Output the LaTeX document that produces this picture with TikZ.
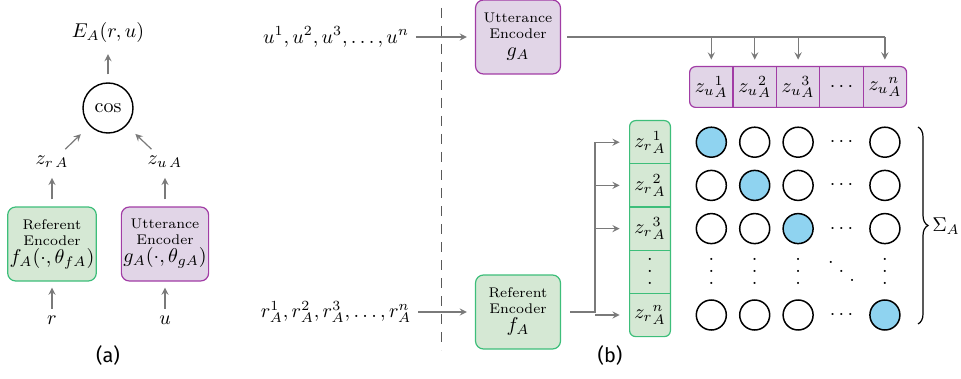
\documentclass[tikz,border=0pt]{standalone}
\usepackage{fontspec}
\newfontfamily\capfont{Fira Sans}
\usetikzlibrary{positioning,decorations.pathreplacing,backgrounds}

\definecolor{refgreen}{HTML}{D5E8D4}
\definecolor{refgreenline}{HTML}{3DBE7A}
\definecolor{uttpurple}{HTML}{E1D5E7}
\definecolor{uttpurpleline}{HTML}{A13CA5}
\definecolor{simblue}{HTML}{8FD3F0}
\definecolor{arrowgray}{HTML}{7A7A7A}

% compact dots, no extra kern above
\newcommand\colvdots{\vbox{\baselineskip6pt\lineskiplimit0pt\hbox{.}\hbox{.}\hbox{.}}}
\newcommand\diagdots{\mbox{\raisebox{9pt}{.}\kern2.5pt\raisebox{4.5pt}{.}\kern2.5pt\raisebox{0pt}{.}}}

\begin{document}
\begin{tikzpicture}[
    x=0.5pt, y=-0.5pt,
    enc/.style={draw, rounded corners=4pt, align=center, font=\scriptsize, minimum width=42.5pt, minimum height=37pt, inner sep=1pt, line width=0.6pt},
    refenc/.style={enc, fill=refgreen, draw=refgreenline},
    uttenc/.style={enc, fill=uttpurple, draw=uttpurpleline},
    cell/.style={minimum width=21.3pt, minimum height=20pt, inner sep=0pt},
    rcell/.style={minimum width=20pt, minimum height=21.2pt, inner sep=0pt},
    sim/.style={circle, draw, line width=0.75pt, minimum size=15pt, inner sep=0pt},
    hit/.style={sim, fill=simblue},
    gap/.style={inner sep=0pt},
    line/.style={draw=arrowgray, line width=0.6pt},
    arrow/.style={line, -stealth}
]
    \useasboundingbox (0,0) rectangle (961,379);

    % (a) single pair
    \node[refenc] (fa) at (52,244) {Referent\\Encoder\\[1pt]\normalsize$f_A(\cdot,\theta_{fA})$};
    \node[uttenc] (ga) at (165,244) {Utterance\\Encoder\\[1pt]\normalsize$g_A(\cdot,\theta_{gA})$};
    \node (r) at (52,320) {$r$};
    \node (u) at (165,320) {$u$};
    \node (zr) at (52,162) {$z_{r\,A}$};
    \node (zu) at (165,162) {$z_{u\,A}$};
    \node[circle, draw, line width=0.7pt, minimum size=25pt] (cos) at (108,108) {$\cos$};
    \node (ea) at (108,33) {$E_A(r,u)$};
    \node[font=\capfont] (capa) at (108,355) {(a)};

    \draw[arrow, shorten >=3pt] (r) -- (fa);
    \draw[arrow, shorten >=3pt] (u) -- (ga);
    \draw[arrow, shorten <=3.5pt, shorten >=1.5pt] (fa) -- (zr);
    \draw[arrow, shorten <=3.5pt, shorten >=1.5pt] (ga) -- (zu);
    \draw[arrow, shorten >=6pt] (zr) -- (cos);
    \draw[arrow, shorten >=6pt] (zu) -- (cos);
    \draw[arrow, shorten <=4pt, shorten >=2pt] (cos) -- (ea);

    \draw[dashed, dash pattern=on 5pt off 4pt, draw=black!65, line width=0.5pt] (441,8) -- (441,350);

    % (b) batch of n pairs
    \node[uttenc] (gA) at (518,37) {Utterance\\Encoder\\[1pt]\normalsize$g_A$};
    \node[refenc] (fA) at (518,312) {Referent\\Encoder\\[1pt]\normalsize$f_A$};
    \node (useq) at (336,37) {$u^1, u^2, u^3, \ldots, u^n$};
    \node (rseq) at (336,312) {$r_A^1, r_A^2, r_A^3, \ldots, r_A^n$};
    \draw[arrow, shorten >=4pt] (useq) -- (useq -| gA.west);
    \draw[arrow, shorten >=4pt] (rseq) -- (rseq -| fA.west);

    \node[cell] (zu1) at (711.3,87) {${z_u}^1_A$};
    \node[cell, right=0pt of zu1] (zu2) {${z_u}^2_A$};
    \node[cell, right=0pt of zu2] (zu3) {${z_u}^3_A$};
    \node[cell, right=0pt of zu3] (zu4) {$\cdots$};
    \node[cell, right=0pt of zu4] (zu5) {${z_u}^n_A$};

    \node[rcell] (zr1) at (650,142.2) {${z_r}^1_A$};
    \node[rcell, below=0pt of zr1] (zr2) {${z_r}^2_A$};
    \node[rcell, below=0pt of zr2] (zr3) {${z_r}^3_A$};
    \node[rcell, below=0pt of zr3] (zr4) {\colvdots};
    \node[rcell, below=0pt of zr4] (zr5) {${z_r}^n_A$};

    \begin{scope}[on background layer]
        \draw[fill=uttpurple, draw=uttpurpleline, line width=0.6pt, rounded corners=3pt] (zu1.north west) rectangle (zu5.south east);
        \draw[fill=refgreen, draw=refgreenline, line width=0.6pt, rounded corners=3pt] (zr1.north west) rectangle (zr5.south east);
    \end{scope}
    \foreach \j in {1,2,3,4}
        \draw[draw=uttpurpleline, line width=0.6pt] (zu\j.north east) -- (zu\j.south east);
    \foreach \i in {1,2,3,4}
        \draw[draw=refgreenline, line width=0.6pt] (zr\i.south west) -- (zr\i.south east);

    \foreach \i in {1,2,3,5}
        \foreach \j in {1,2,3,5} {
            \ifnum\i=\j \def\simstyle{hit}\else\def\simstyle{sim}\fi
            \node[\simstyle] (c\i\j) at (zu\j |- zr\i) {};
        }
    \foreach \i in {1,2,3,5}
        \node[gap] (h\i) at (zu4 |- zr\i) {$\cdots$};
    \foreach \j in {1,2,3,5}
        \node[gap] (v\j) at (zu\j |- zr4) {\colvdots};
    \node[gap] (dd) at (zu4 |- zr4) {\diagdots};

    \draw[line] ([xshift=3pt]gA.east) -- (gA.east -| zu5);
    \foreach \j in {1,2,3,5}
        \draw[arrow] (gA.east -| zu\j) -- ([yshift=3.5pt]zu\j.north);

    \coordinate (fork) at (595,312);
    \draw[line] ([xshift=4.5pt]fA.east) -- (fork) -- (fork |- zr1);
    \foreach \i in {1,2,3,5}
        \draw[arrow] (fork |- zr\i) -- ([xshift=-5pt]zr\i.west);

    \draw[decorate, decoration={brace, amplitude=5pt}, line width=0.6pt] (918,127) -- (918,324);
    \node (sigma) at (946,226) {$\Sigma_A$};
    \node[font=\capfont] (capb) at (610,355) {(b)};
\end{tikzpicture}
\end{document}
